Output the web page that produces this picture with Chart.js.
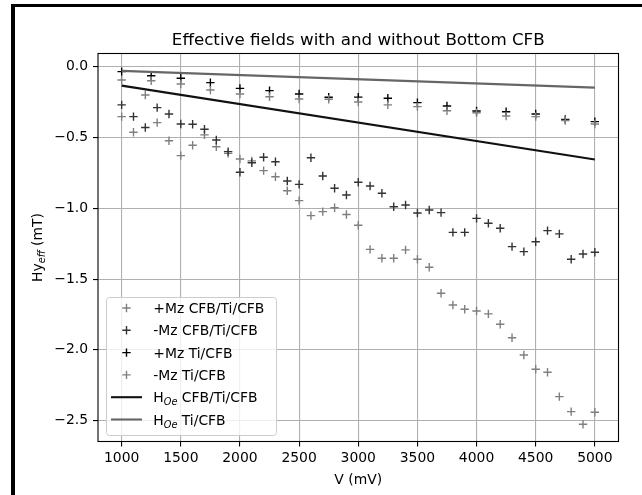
<!DOCTYPE html>
<html>
<head>
<meta charset="utf-8">
<script src="https://cdn.jsdelivr.net/npm/chart.js@4.4.0/dist/chart.umd.min.js"></script>
<style>
  html, body { margin: 0; padding: 0; background: #fff; }
  #frame { position: absolute; left: 11px; top: 4px; width: 631px; height: 491px;
           border-top: 3px solid #000; border-left: 4px solid #000; box-sizing: border-box; }
  #chart { position: absolute; left: 0; top: 0; }
</style>
</head>
<body>
<div id="frame"></div>
<canvas id="chart" width="642" height="495"></canvas>
<script>
const FONT = "'DejaVu Sans', sans-serif";

// Ti/CFB sweep (250 mV steps)
const xTi = [1000, 1250, 1500, 1750, 2000, 2250, 2500, 2750, 3000, 3250, 3500, 3750, 4000, 4250, 4500, 4750, 5000];
const plusMzTi = [-0.035, -0.064, -0.082, -0.113, -0.153, -0.169, -0.193, -0.216, -0.215, -0.223, -0.254, -0.278, -0.313, -0.318, -0.334, -0.372, -0.388];
const minusMzTi = [-0.094, -0.099, -0.122, -0.165, -0.193, -0.212, -0.228, -0.230, -0.250, -0.270, -0.282, -0.311, -0.325, -0.348, -0.353, -0.380, -0.405];

// CFB/Ti/CFB sweep (100 mV steps)
const xCfb = [1000, 1100, 1200, 1300, 1400, 1500, 1600, 1700, 1800, 1900,
              2000, 2100, 2200, 2300, 2400, 2500, 2600, 2700, 2800, 2900,
              3000, 3100, 3200, 3300, 3400, 3500, 3600, 3700, 3800, 3900,
              4000, 4100, 4200, 4300, 4400, 4500, 4600, 4700, 4800, 4900, 5000];
const plusMzCfb = [-0.353, -0.463, -0.200, -0.395, -0.523, -0.628, -0.555, -0.482, -0.565, -0.612,
                   -0.652, -0.665, -0.734, -0.777, -0.876, -0.946, -1.052, -1.024, -0.996, -1.044,
                   -1.120, -1.290, -1.353, -1.353, -1.294, -1.360, -1.417, -1.600, -1.683, -1.713,
                   -1.725, -1.746, -1.819, -1.914, -2.036, -2.137, -2.158, -2.330, -2.436, -2.525, -2.440];
const minusMzCfb = [-0.270, -0.353, -0.430, -0.289, -0.334, -0.405, -0.407, -0.442, -0.518, -0.600,
                    -0.746, -0.678, -0.640, -0.671, -0.807, -0.831, -0.643, -0.772, -0.859, -0.906,
                    -0.816, -0.843, -0.894, -0.989, -0.977, -1.033, -1.012, -1.031, -1.170, -1.170,
                    -1.071, -1.106, -1.141, -1.271, -1.306, -1.236, -1.158, -1.181, -1.360, -1.323, -1.311];

// Oersted field lines
const xHoe = [1000, 5000];
const hoeCfbTiCfb = [-0.134, -0.655];
const hoeTiCfb = [-0.030, -0.148];

const seriesNames = ['+Mz CFB/Ti/CFB', '-Mz CFB/Ti/CFB', '+Mz Ti/CFB', '-Mz Ti/CFB', 'H_{Oe} CFB/Ti/CFB', 'H_{Oe} Ti/CFB'];
const xTicks = [1000, 1500, 2000, 2500, 3000, 3500, 4000, 4500, 5000];
const yTicks = [0, -0.5, -1, -1.5, -2, -2.5];
const yTickLabels = ['0.0', '\u22120.5', '\u22121.0', '\u22121.5', '\u22122.0', '\u22122.5'];

function pts(xs, ys) {
    return xs.map((x, i) => ({ x: x, y: ys[i] }));
}

function markers(i, xs, ys, color) {
    return {
        label: seriesNames[i], data: pts(xs, ys), showLine: false, order: 6 - i,
        pointStyle: 'cross', pointRadius: 4.2, pointBorderWidth: 1.4,
        borderColor: color, backgroundColor: color
    };
}
function line(i, xs, ys, color) {
    return {
        label: seriesNames[i], data: pts(xs, ys), showLine: true, order: 6 - i,
        pointRadius: 0, borderWidth: 2.1, borderColor: color, backgroundColor: color
    };
}

// text with an italic subscript like H_{Oe}
function richParts(text) {
    const m = text.match(/^(.*?)_\{(.*?)\}(.*)$/);
    if (!m) return [{ t: text, sub: false }];
    return [{ t: m[1], sub: false }, { t: m[2], sub: true }, { t: m[3], sub: false }];
}
function drawRich(ctx, text, x, y, size, align) {
    const parts = richParts(text);
    const fontFor = p => p.sub ? `italic ${size * 0.7}px ${FONT}` : `${size}px ${FONT}`;
    let w = 0;
    parts.forEach(p => { ctx.font = fontFor(p); p.w = ctx.measureText(p.t).width; w += p.w; });
    let cx = align === 'center' ? x - w / 2 : x;
    ctx.textAlign = 'left';
    ctx.textBaseline = 'alphabetic';
    parts.forEach(p => {
        ctx.font = fontFor(p);
        ctx.fillText(p.t, cx, p.sub ? y + size * 0.22 : y);
        cx += p.w;
    });
}

const decor = {
    id: 'decor',
    afterDatasetsDraw(chart) {
        const ctx = chart.ctx, a = chart.chartArea;
        ctx.save();
        ctx.strokeStyle = '#000';
        ctx.lineWidth = 1.1;
        ctx.strokeRect(a.left, a.top, a.right - a.left, a.bottom - a.top);
        ctx.restore();
    },
    afterDraw(chart) {
        const ctx = chart.ctx, a = chart.chartArea;
        const cxm = (a.left + a.right) / 2;
        ctx.save();
        ctx.fillStyle = '#000';
        // title
        drawRich(ctx, 'Effective fields with and without Bottom CFB', cxm, 45, 16.7, 'center');
        // x label
        drawRich(ctx, 'V (mV)', cxm, 484, 13.9, 'center');
        // y label
        ctx.save();
        ctx.translate(41.5, (a.top + a.bottom) / 2);
        ctx.rotate(-Math.PI / 2);
        drawRich(ctx, 'Hy_{eff} (mT)', 0, 0, 13.9, 'center');
        ctx.restore();

        // legend
        const lx = 106, ly = 297, lw = 170, lh = 138;
        ctx.beginPath();
        ctx.roundRect(lx + 0.5, ly + 0.5, lw, lh, 3);
        ctx.fillStyle = 'rgba(255,255,255,0.8)';
        ctx.fill();
        ctx.strokeStyle = '#cccccc';
        ctx.lineWidth = 1;
        ctx.stroke();
        chart.data.datasets.forEach((ds, i) => {
            const cy = 308 + i * 22.3;
            ctx.strokeStyle = ds.borderColor;
            ctx.beginPath();
            if (ds.showLine) {
                ctx.lineWidth = 2.1;
                ctx.moveTo(111, cy);
                ctx.lineTo(142, cy);
            } else {
                ctx.lineWidth = 1.4;
                ctx.moveTo(126.5 - 4.2, cy);
                ctx.lineTo(126.5 + 4.2, cy);
                ctx.moveTo(126.5, cy - 4.2);
                ctx.lineTo(126.5, cy + 4.2);
            }
            ctx.stroke();
            ctx.fillStyle = '#000';
            drawRich(ctx, ds.label, 153.3, cy + 5, 13.9, 'left');
        });
        ctx.restore();
    }
};

const gridOpts = { color: '#b0b0b0', lineWidth: 1.1, tickColor: '#000', tickWidth: 1.1, tickLength: 5 };
const tickFont = { family: FONT, size: 13.9 };

new Chart(document.getElementById('chart'), {
    type: 'scatter',
    data: {
        datasets: [
            markers(0, xCfb, plusMzCfb, '#7f7f7f'),
            markers(1, xCfb, minusMzCfb, '#333333'),
            markers(2, xTi, plusMzTi, '#000000'),
            markers(3, xTi, minusMzTi, '#808080'),
            line(4, xHoe, hoeCfbTiCfb, '#111111'),
            line(5, xHoe, hoeTiCfb, '#666666')
        ]
    },
    options: {
        responsive: false,
        animation: false,
        devicePixelRatio: 1,
        events: [],
        layout: { padding: { left: 0, top: 53.5, right: 23.5, bottom: 0 } },
        plugins: { legend: { display: false }, tooltip: { enabled: false } },
        scales: {
            x: {
                type: 'linear', min: 800, max: 5200,
                afterBuildTicks: s => { s.ticks = xTicks.map(v => ({ value: v })); },
                afterFit: s => { s.height = 53.5; },
                grid: gridOpts,
                border: { display: false },
                ticks: { font: tickFont, color: '#000', padding: 4, maxRotation: 0, autoSkip: false,
                         callback: v => String(v) }
            },
            y: {
                type: 'linear', min: -2.647, max: 0.093,
                afterBuildTicks: s => { s.ticks = yTicks.map(v => ({ value: v })); },
                afterFit: s => { s.width = 98; },
                grid: gridOpts,
                border: { display: false },
                ticks: { font: tickFont, color: '#000', padding: 4.9, autoSkip: false,
                         callback: v => yTickLabels[yTicks.indexOf(v)] }
            }
        }
    },
    plugins: [decor]
});
</script>
</body>
</html>
